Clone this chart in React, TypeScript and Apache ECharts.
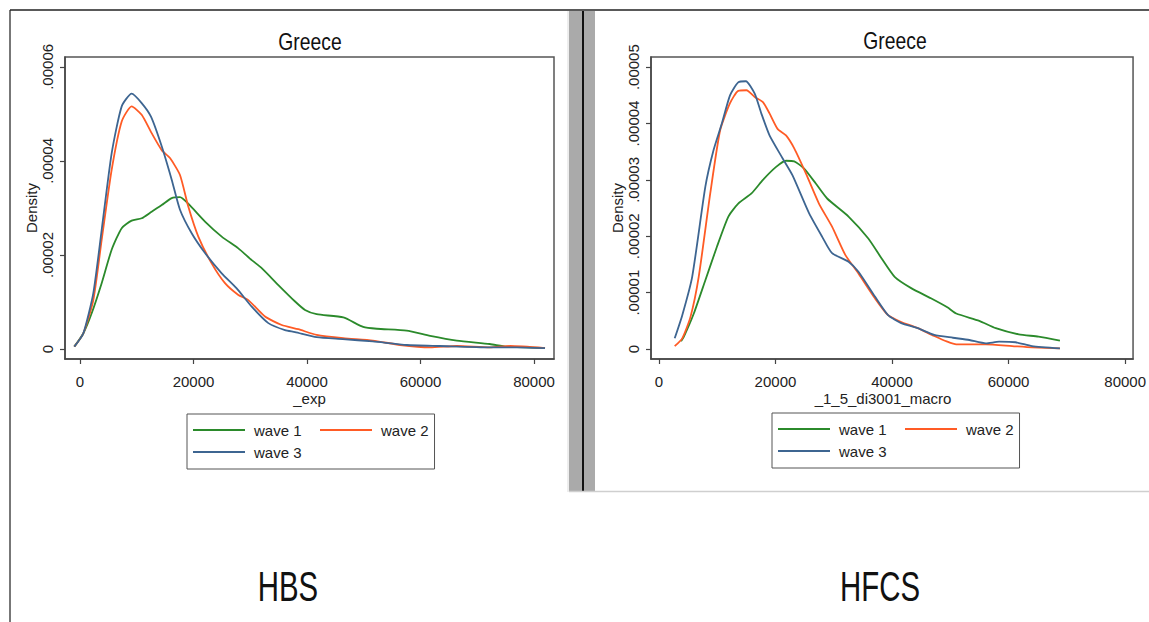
import { useEffect, useRef } from 'react';
import * as echarts from 'echarts';

const FONT = "'Liberation Sans', Arial, sans-serif";

// ---- HBS (left) ----
const hbsW1X = [-1000, 580, 2060, 3820, 5580, 7350, 9100, 10870, 12630, 14400, 16160, 17620, 19080, 22030, 24970, 27900, 30260, 32020, 34950, 37900, 39650, 41700, 46400, 49900, 52300, 57550, 61700, 66400, 72200, 75200, 81940];
const hbsW1Y = [0.5, 3.3, 7.6, 14.0, 21.1, 25.7, 27.3, 27.8, 29.2, 30.6, 32.1, 32.3, 30.9, 27.1, 23.9, 21.4, 18.9, 17.2, 13.6, 10.1, 8.3, 7.4, 6.7, 4.7, 4.3, 3.9, 2.8, 1.8, 1.06, 0.5, 0.2];
const hbsW2X = [-1000, 580, 2350, 3820, 5580, 7350, 9100, 10870, 12630, 14400, 15860, 17620, 19080, 20850, 23200, 25550, 27900, 29660, 32600, 35540, 38470, 41700, 46400, 51600, 56400, 61700, 66400, 72200, 75800, 81940];
const hbsW2Y = [0.5, 3.3, 10.4, 23.2, 38.1, 48.4, 51.6, 49.8, 45.9, 42.3, 40.6, 37.0, 30.3, 23.9, 18.2, 14.0, 11.5, 10.4, 6.9, 5.1, 4.2, 3.0, 2.3, 1.8, 0.85, 0.35, 0.64, 0.35, 0.64, 0.2];
const hbsW3X = [-1000, 580, 2350, 3820, 5580, 7350, 9100, 10870, 12510, 14400, 16160, 17620, 19680, 22030, 24970, 27610, 30260, 33190, 36120, 37900, 41700, 46300, 51600, 57600, 63400, 72200, 76950, 81940];
const hbsW3Y = [0.5, 3.3, 11.9, 25.3, 41.6, 51.6, 54.3, 52.3, 49.4, 43.1, 36.0, 29.6, 24.6, 20.4, 16.1, 12.9, 9.0, 5.5, 4.0, 3.6, 2.5, 2.1, 1.6, 0.85, 0.64, 0.35, 0.35, 0.2];

// ---- HFCS (right) ----
const hfcsW1X = [3800, 4290, 5990, 7970, 9940, 11920, 13610, 15880, 17850, 20110, 21810, 23220, 24920, 26890, 28870, 32540, 35930, 38190, 40450, 43280, 46670, 49490, 51020, 54970, 57800, 61750, 65140, 68810];
const hfcsW1Y = [1.4, 2.2, 6.3, 12.2, 18.1, 23.5, 25.8, 27.6, 30.0, 32.3, 33.4, 33.3, 32.0, 29.4, 26.7, 23.5, 19.6, 16.1, 12.8, 10.8, 9.0, 7.4, 6.3, 5.0, 3.7, 2.6, 2.2, 1.5];
const hfcsW2X = [2710, 4010, 5420, 6830, 8810, 10510, 12200, 13610, 15030, 16440, 17850, 18980, 20390, 21810, 23220, 25200, 27460, 29710, 31980, 34240, 37070, 39320, 41580, 44410, 47240, 49490, 51020, 56100, 60620, 64020, 68810];
const hfcsW2Y = [0.5, 1.9, 5.7, 12.8, 27.6, 38.8, 43.6, 45.8, 45.9, 44.7, 43.8, 41.8, 39.0, 37.9, 35.6, 31.2, 25.8, 21.7, 16.7, 13.4, 9.0, 6.0, 4.8, 3.7, 2.3, 1.3, 0.83, 0.83, 0.53, 0.3, 0.12];
const hfcsW3X = [2710, 4010, 5710, 7970, 9380, 10800, 12200, 13610, 14920, 16440, 17570, 18980, 21240, 22930, 25760, 28020, 29710, 32540, 34240, 37070, 39320, 41580, 44410, 47240, 50450, 53270, 56100, 58360, 61190, 64020, 68810];
const hfcsW3Y = [1.9, 6.0, 12.8, 28.8, 35.3, 40.0, 45.0, 47.3, 47.5, 45.3, 41.8, 37.9, 33.8, 30.8, 24.1, 19.9, 17.0, 15.5, 13.7, 9.3, 6.0, 4.6, 3.7, 2.5, 2.0, 1.6, 1.0, 1.3, 1.2, 0.53, 0.12];

const seriesNames = ['wave 1', 'wave 2', 'wave 3'];
const seriesColors = ['#2b8a2b', '#ff5b25', '#3d6591'];

const hbsXTicks = [0, 20000, 40000, 60000, 80000];
const hbsYTicks = [0, 0.00002, 0.00004, 0.00006];
const hfcsXTicks = [0, 20000, 40000, 60000, 80000];
const hfcsYTicks = [0, 0.00001, 0.00002, 0.00003, 0.00004, 0.00005];

const panelTitles = ['Greece', 'Greece'];
const xAxisNames = ['_exp', '_1_5_di3001_macro'];
const yAxisName = 'Density';
const bottomLabels = ['HBS', 'HFCS'];

const pairs = (xs: number[], ys: number[]) => xs.map((x, i) => [x, ys[i] * 1e-6]);

const fmtY = (v: number) => (v === 0 ? '0' : v.toFixed(5).replace(/^0/, ''));

const TICK_FS = 15;

function makeX(gridIndex: number, min: number, max: number, ticks: number[], name: string, namePad: number[]) {
  return {
    type: 'value', gridIndex, min, max,
    axisLine: { show: true, onZero: false, lineStyle: { color: '#444', width: 1.5 } },
    axisTick: { show: true, length: 5, customValues: ticks, lineStyle: { color: '#444', width: 1.2 } },
    axisLabel: { customValues: ticks, margin: 15, fontSize: TICK_FS, color: '#222', fontFamily: FONT, formatter: (v: number) => String(v) },
    splitLine: { show: false },
    name, nameLocation: 'middle', nameGap: 32, nameMoveOverlap: false,
    nameTextStyle: { fontSize: TICK_FS, color: '#222', fontFamily: FONT, padding: namePad },
  };
}

function makeY(gridIndex: number, min: number, max: number, ticks: number[]) {
  return {
    type: 'value', gridIndex, min, max,
    axisLine: { show: true, onZero: false, lineStyle: { color: '#444', width: 1.5 } },
    axisTick: { show: true, length: 5, customValues: ticks, lineStyle: { color: '#444', width: 1.2 } },
    axisLabel: { customValues: ticks, rotate: 90, margin: 10, fontSize: TICK_FS, color: '#222', fontFamily: FONT, formatter: fmtY },
    splitLine: { show: false },
    name: yAxisName, nameLocation: 'middle', nameGap: 26, nameMoveOverlap: false,
    nameTextStyle: { fontSize: TICK_FS, color: '#222', fontFamily: FONT },
  };
}

function makeLegend(left: number, top: number) {
  return {
    left, top, width: 300, orient: 'horizontal', selectedMode: false,
    icon: 'path://M0,0 L52,0 L52,2 L0,2 Z',
    itemWidth: 52, itemHeight: 14, itemGap: 4,
    padding: [7, 6, 8, 6],
    borderColor: '#555', borderWidth: 1,
    textStyle: { fontSize: TICK_FS, color: '#222', fontFamily: FONT, width: 62, lineHeight: 18, padding: [0, 0, 0, 4] },
    data: [
      { name: seriesNames[0] },
      { name: seriesNames[1], textStyle: { width: 44 } },
      { name: seriesNames[2] },
    ],
  };
}

const hbsData = [pairs(hbsW1X, hbsW1Y), pairs(hbsW2X, hbsW2Y), pairs(hbsW3X, hbsW3Y)];
const hfcsData = [pairs(hfcsW1X, hfcsW1Y), pairs(hfcsW2X, hfcsW2Y), pairs(hfcsW3X, hfcsW3Y)];

const mkSeries = (data: number[][][], idx: number) =>
  data.map((d, i) => ({
    type: 'line', name: seriesNames[i], xAxisIndex: idx, yAxisIndex: idx, data: d,
    symbol: 'none', showSymbol: false, smooth: 0.2,
    lineStyle: { color: seriesColors[i], width: 1.8 }, itemStyle: { color: seriesColors[i] },
    z: 3 + i,
  }));

const option = {
  animation: false,
  backgroundColor: '#fff',
  grid: [
    { left: 65, top: 57, width: 489, height: 302, show: true, borderColor: '#555', borderWidth: 1.5, backgroundColor: 'transparent' },
    { left: 651, top: 57, width: 488, height: 302, show: true, borderColor: '#555', borderWidth: 1.5, backgroundColor: 'transparent' },
  ],
  xAxis: [
    makeX(0, -2640, 83520, hbsXTicks, xAxisNames[0], [0, 0, 0, 0]),
    makeX(1, -1356, 81356, hfcsXTicks, xAxisNames[1], [0, 18, 0, 0]),
  ],
  yAxis: [
    makeY(0, -0.00000213, 0.0000621, hbsYTicks),
    makeY(1, -0.00000177, 0.0000518, hfcsYTicks),
  ],
  legend: [makeLegend(187, 414), makeLegend(772, 413)],
  series: [...mkSeries(hbsData, 0), ...mkSeries(hfcsData, 1)],
  graphic: [
    { type: 'line', shape: { x1: 10, y1: 10, x2: 10, y2: 622 }, style: { stroke: '#777', lineWidth: 2 } },
    { type: 'line', shape: { x1: 10, y1: 10, x2: 1149, y2: 10 }, style: { stroke: '#222', lineWidth: 1.5 } },
    { type: 'line', shape: { x1: 568, y1: 11, x2: 568, y2: 492 }, style: { stroke: '#dcdcdc', lineWidth: 1 } },
    { type: 'rect', shape: { x: 569, y: 11, width: 26, height: 481 }, style: { fill: '#aaaaaa' } },
    { type: 'line', shape: { x1: 583, y1: 11, x2: 583, y2: 492 }, style: { stroke: '#111', lineWidth: 2 } },
    { type: 'line', shape: { x1: 569, y1: 491.5, x2: 1149, y2: 491.5 }, style: { stroke: '#cfcfcf', lineWidth: 1.5 } },
    { type: 'text', x: 310, y: 42, scaleX: 0.84, style: { text: panelTitles[0], fontSize: 23, fontFamily: FONT, fill: '#111', align: 'center', verticalAlign: 'middle' } },
    { type: 'text', x: 895, y: 41, scaleX: 0.84, style: { text: panelTitles[1], fontSize: 23, fontFamily: FONT, fill: '#111', align: 'center', verticalAlign: 'middle' } },
    { type: 'text', x: 288, y: 587, scaleX: 0.7, style: { text: bottomLabels[0], fontSize: 42, fontFamily: FONT, fill: '#111', align: 'center', verticalAlign: 'middle' } },
    { type: 'text', x: 880, y: 587, scaleX: 0.7, style: { text: bottomLabels[1], fontSize: 42, fontFamily: FONT, fill: '#111', align: 'center', verticalAlign: 'middle' } },
  ],
};

export default function App() {
  const ref = useRef<HTMLDivElement>(null);
  useEffect(() => {
    const chart = echarts.init(ref.current!, null, { renderer: 'svg' });
    chart.setOption(option as any);
    return () => chart.dispose();
  }, []);
  return <div ref={ref} style={{ position: 'fixed', left: 0, top: 0, width: 1149, height: 622, background: '#fff' }} />;
}
